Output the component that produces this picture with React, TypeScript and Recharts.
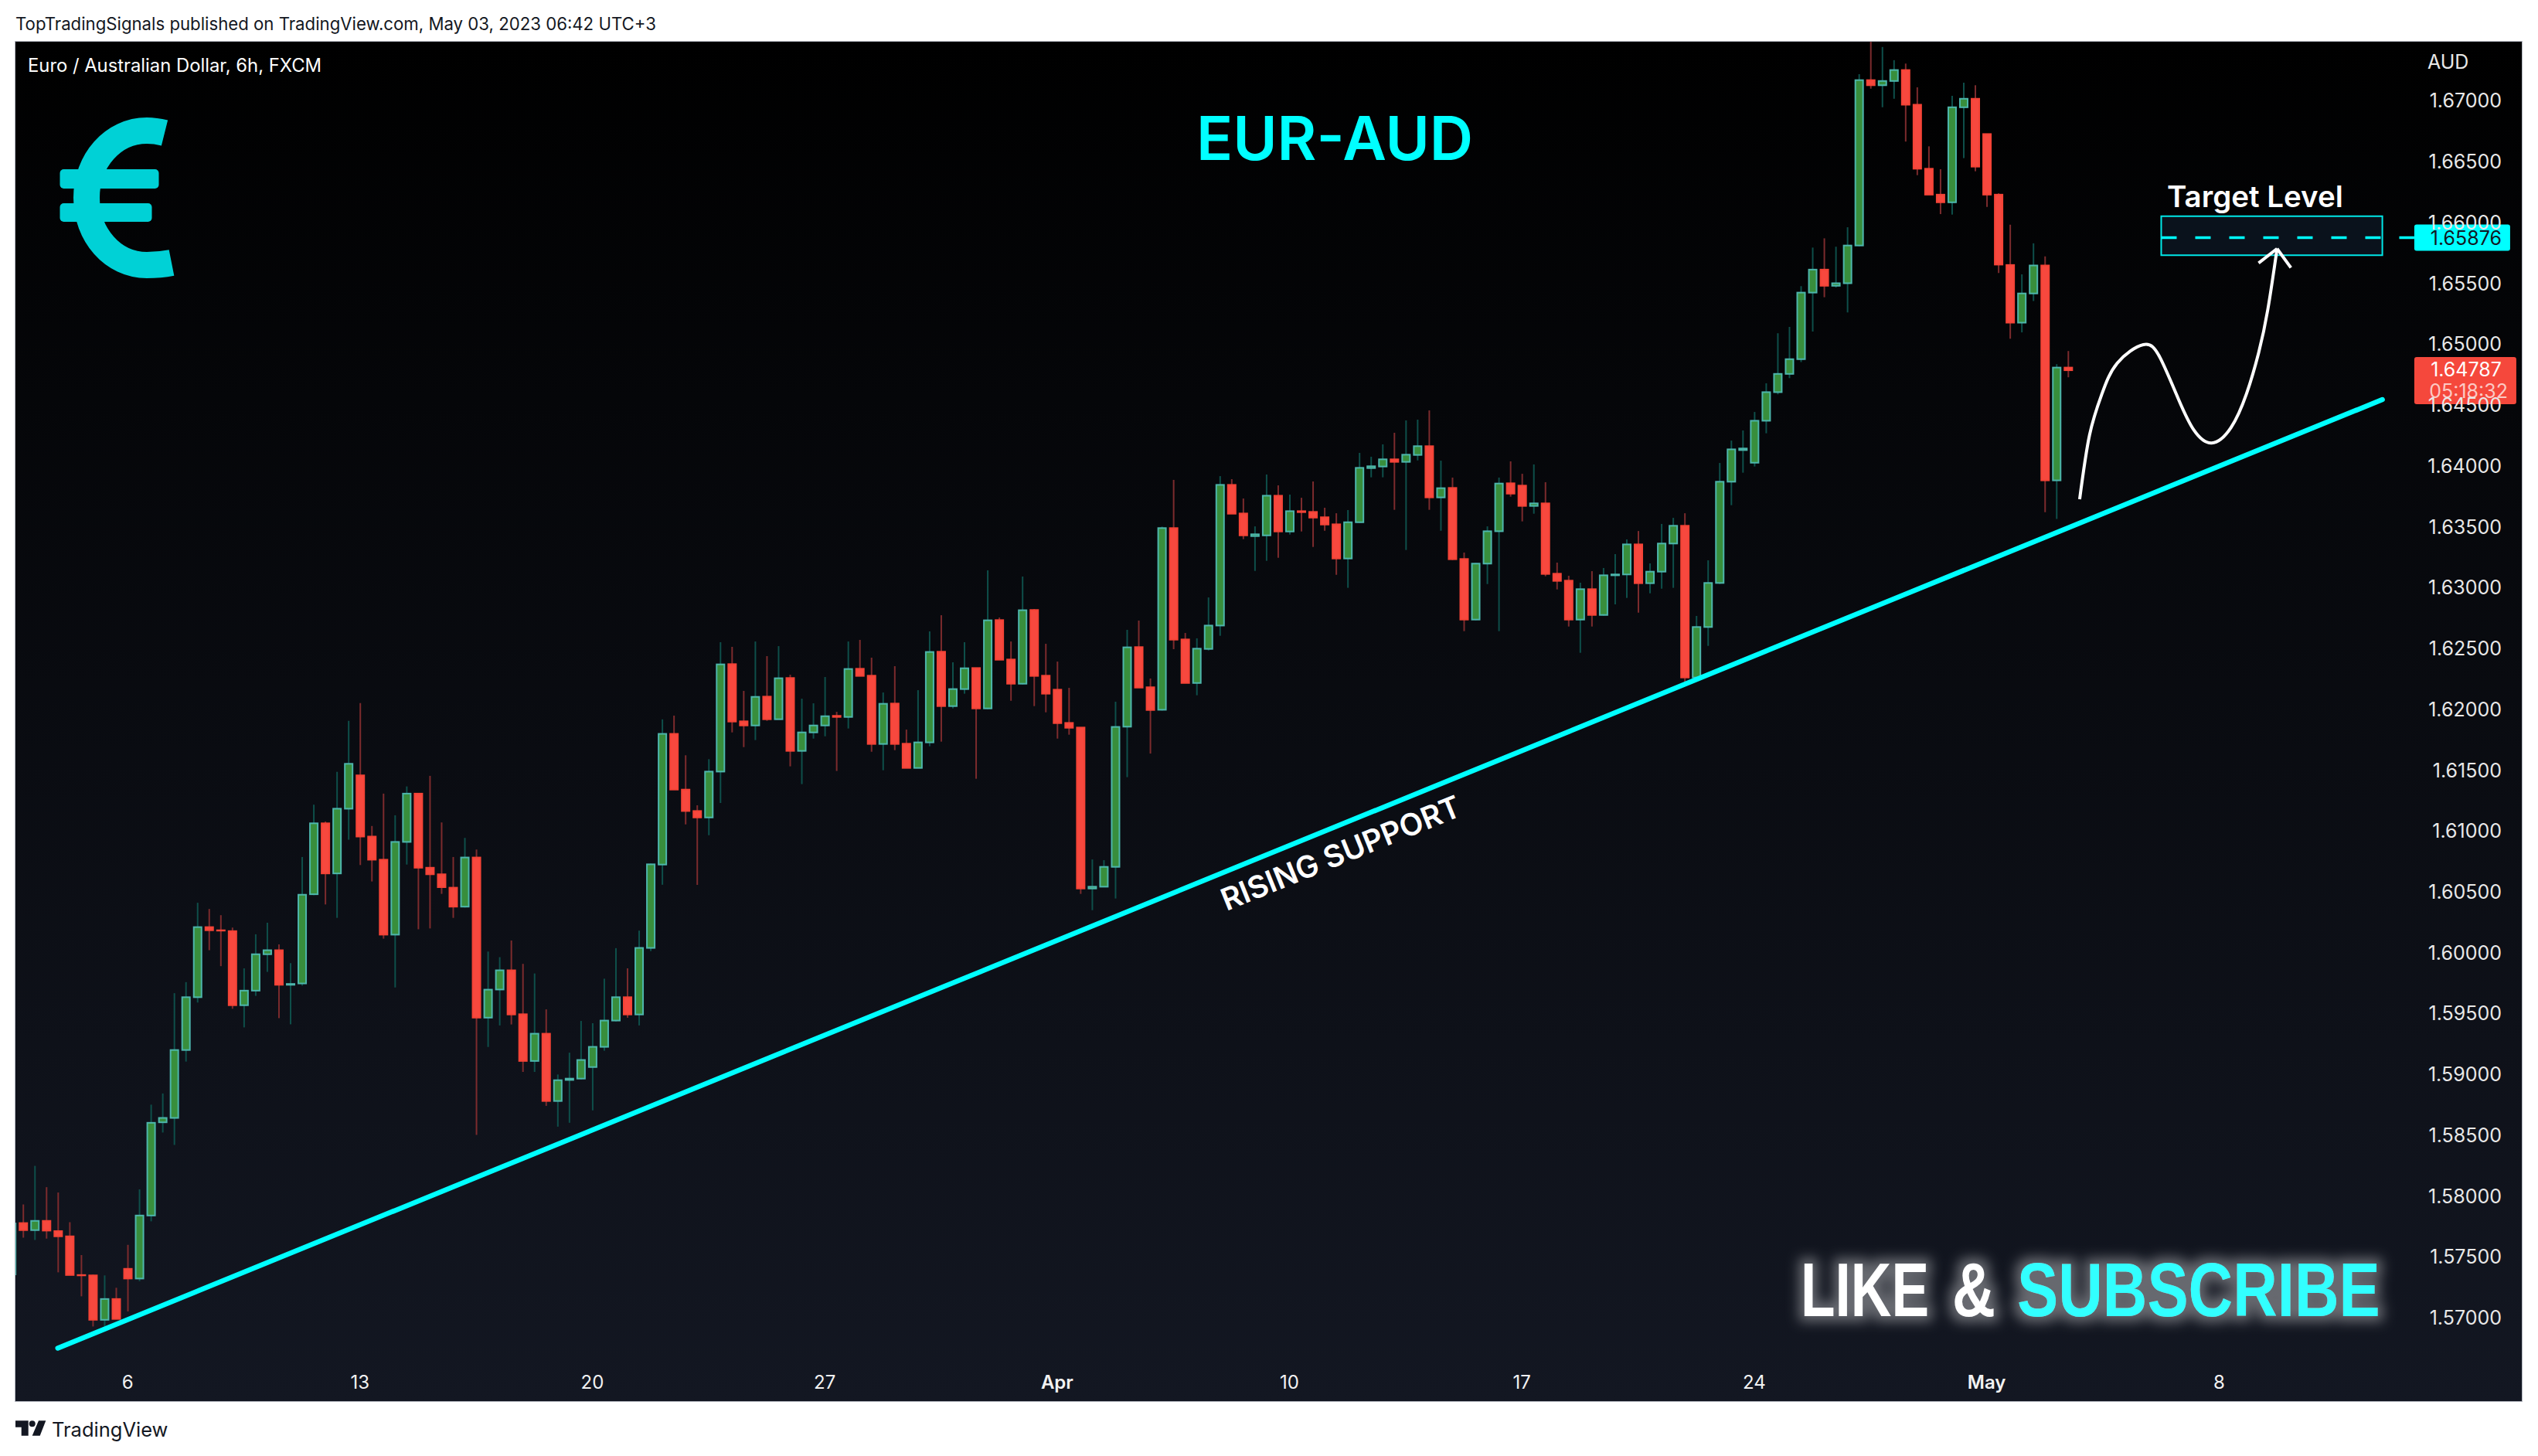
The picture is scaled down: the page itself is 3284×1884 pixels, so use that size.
import React from 'react';
import {
  ComposedChart,
  Bar,
  Line,
  XAxis,
  YAxis,
  ReferenceLine,
  ReferenceArea,
  ReferenceDot,
} from 'recharts';

const firstIndex = -1;
const opens = [
  1.57357,
  1.57779, 1.57721, 1.57797, 1.57713, 1.5767, 1.57352, 1.57349, 1.56984, 1.57155, 1.57403,
  1.57323, 1.57841, 1.58607, 1.58643, 1.59201, 1.59635, 1.60211, 1.60185, 1.60178, 1.59569,
  1.59689, 1.59988, 1.60021, 1.59737, 1.59748, 1.60481, 1.61064, 1.60652, 1.61184, 1.61458,
  1.60955, 1.60765, 1.60149, 1.60911, 1.61308, 1.60699, 1.60645, 1.60535, 1.60379, 1.60783,
  1.59467, 1.59698, 1.59856, 1.59495, 1.59111, 1.59335, 1.58782, 1.58955, 1.58966, 1.59061,
  1.59227, 1.59443, 1.59635, 1.59493, 1.6004, 1.60725, 1.61799, 1.61341, 1.61165, 1.61112,
  1.61489, 1.62372, 1.61902, 1.61868, 1.62105, 1.61919, 1.62258, 1.61659, 1.61811, 1.61868,
  1.61947, 1.61938, 1.62334, 1.62277, 1.61716, 1.62048, 1.61718, 1.61519, 1.61729, 1.62474,
  1.62027, 1.62167, 1.6234, 1.62008, 1.62734, 1.6241, 1.62211, 1.62817, 1.62277, 1.62162,
  1.61889, 1.61851, 1.60528, 1.60543, 1.60706, 1.61858, 1.62512, 1.62182, 1.61997, 1.6349,
  1.62575, 1.62217, 1.62497, 1.62689, 1.63845, 1.6361, 1.63424, 1.6343, 1.63756, 1.63462,
  1.63629, 1.63623, 1.63579, 1.63521, 1.6324, 1.63538, 1.63983, 1.63996, 1.64055, 1.64034,
  1.64091, 1.64163, 1.63742, 1.6382, 1.63236, 1.62738, 1.63198, 1.63464, 1.63858, 1.63839,
  1.63672, 1.63693, 1.63115, 1.63058, 1.62738, 1.62988, 1.62776, 1.63102, 1.63109, 1.63356,
  1.63037, 1.63132, 1.63363, 1.63509, 1.62262, 1.62677, 1.63039, 1.63871, 1.64131, 1.64027,
  1.64372, 1.64607, 1.64757, 1.64878, 1.65425, 1.65614, 1.65481, 1.65502, 1.65812, 1.67171,
  1.67129, 1.67164, 1.67254, 1.66969, 1.66443, 1.6623, 1.66167, 1.66948, 1.67018, 1.66728,
  1.6623, 1.65652, 1.65178, 1.65418, 1.65648, 1.63882, 1.64809,
];
const highs = [
  1.5785,
  1.57932, 1.58249, 1.58074, 1.5803, 1.57786, 1.57516, 1.57356, 1.57349, 1.57247, 1.576,
  1.58056, 1.58752, 1.58844, 1.59668, 1.59759, 1.60411, 1.6036, 1.60309, 1.60207, 1.59872,
  1.60152, 1.60247, 1.60069, 1.59915, 1.60787, 1.61217, 1.61079, 1.61487, 1.61906, 1.62052,
  1.61042, 1.61308, 1.6113, 1.61367, 1.61308, 1.61454, 1.61071, 1.60787, 1.60944, 1.60849,
  1.6001, 1.59964, 1.60101, 1.59909, 1.5983, 1.59535, 1.59, 1.59179, 1.5944, 1.59421,
  1.59787, 1.60038, 1.59872, 1.60182, 1.60733, 1.61918, 1.61949, 1.61623, 1.61212, 1.61591,
  1.62552, 1.62514, 1.62152, 1.62558, 1.62438, 1.6252, 1.62285, 1.62088, 1.6205, 1.62266,
  1.6198, 1.62558, 1.62571, 1.62425, 1.62139, 1.62355, 1.61834, 1.62158, 1.62641, 1.62774,
  1.62387, 1.62552, 1.6234, 1.63143, 1.62755, 1.62558, 1.63092, 1.62825, 1.62539, 1.62393,
  1.62177, 1.61851, 1.60767, 1.60761, 1.62063, 1.62654, 1.6273, 1.62254, 1.63502, 1.63886,
  1.62628, 1.62584, 1.6292, 1.63917, 1.63892, 1.63733, 1.63504, 1.6393, 1.63841, 1.63765,
  1.63739, 1.63873, 1.63657, 1.63612, 1.63638, 1.64108, 1.64076, 1.64178, 1.64273, 1.64375,
  1.64381, 1.64457, 1.64044, 1.63905, 1.63289, 1.63204, 1.63504, 1.63905, 1.64038, 1.63936,
  1.64013, 1.63867, 1.63206, 1.63098, 1.63041, 1.63136, 1.63162, 1.63276, 1.63397, 1.63466,
  1.632, 1.63524, 1.63574, 1.63612, 1.62768, 1.63225, 1.64025, 1.64209, 1.64292, 1.64444,
  1.6468, 1.65091, 1.65143, 1.65478, 1.65795, 1.65871, 1.65802, 1.65962, 1.6722, 1.67505,
  1.67443, 1.67335, 1.67307, 1.67112, 1.66627, 1.66439, 1.67042, 1.6715, 1.67129, 1.66728,
  1.66241, 1.65983, 1.65575, 1.6583, 1.65722, 1.64837, 1.64945,
];
const lows = [
  1.573,
  1.57659, 1.5764, 1.57651, 1.57374, 1.57352, 1.57177, 1.56929, 1.56929, 1.56991, 1.57053,
  1.57301, 1.57793, 1.58523, 1.58421, 1.59106, 1.59591, 1.60021, 1.5989, 1.5954, 1.59387,
  1.59646, 1.59843, 1.59463, 1.59412, 1.5973, 1.60473, 1.60397, 1.60287, 1.60929, 1.60721,
  1.60586, 1.60116, 1.59715, 1.60725, 1.60193, 1.602, 1.60484, 1.60287, 1.60371, 1.58504,
  1.59226, 1.59403, 1.59411, 1.59021, 1.59021, 1.58742, 1.58571, 1.58603, 1.58958, 1.58705,
  1.59195, 1.59435, 1.59466, 1.59403, 1.60014, 1.60559, 1.61341, 1.61055, 1.60558, 1.60966,
  1.61231, 1.61811, 1.6169, 1.61748, 1.61906, 1.61919, 1.61532, 1.61386, 1.6176, 1.61779,
  1.61494, 1.61843, 1.62275, 1.61652, 1.615, 1.61665, 1.61519, 1.61519, 1.61697, 1.61735,
  1.62008, 1.62129, 1.6143, 1.62002, 1.62408, 1.62071, 1.62205, 1.62027, 1.61976, 1.6176,
  1.61792, 1.60484, 1.6035, 1.60543, 1.60446, 1.61443, 1.62179, 1.61637, 1.6199, 1.62495,
  1.62217, 1.62116, 1.62484, 1.62605, 1.63608, 1.63399, 1.63138, 1.63221, 1.63246, 1.63437,
  1.63462, 1.63335, 1.63468, 1.63106, 1.62999, 1.63532, 1.63907, 1.63907, 1.6364, 1.6331,
  1.64046, 1.6364, 1.63468, 1.63227, 1.62643, 1.62732, 1.6303, 1.62643, 1.63748, 1.63545,
  1.63608, 1.63094, 1.62986, 1.62681, 1.62465, 1.62681, 1.6277, 1.62863, 1.62916, 1.62795,
  1.62954, 1.62992, 1.62999, 1.62211, 1.62249, 1.62522, 1.6303, 1.63678, 1.63945, 1.63996,
  1.64269, 1.64589, 1.64722, 1.64854, 1.65105, 1.65387, 1.65467, 1.65262, 1.65805, 1.67101,
  1.66948, 1.67018, 1.66666, 1.6639, 1.6623, 1.6607, 1.66066, 1.6653, 1.66422, 1.66129,
  1.65586, 1.65046, 1.65098, 1.65356, 1.63621, 1.63565, 1.64729,
];
const closes = [
  1.57776,
  1.57721, 1.57797, 1.57717, 1.5767, 1.57352, 1.57349, 1.56984, 1.57155, 1.56991, 1.57323,
  1.57841, 1.58603, 1.58643, 1.59201, 1.59635, 1.60211, 1.60185, 1.60182, 1.59569, 1.59689,
  1.59988, 1.60021, 1.59737, 1.59744, 1.60477, 1.61064, 1.60652, 1.61184, 1.61553, 1.60955,
  1.60765, 1.60149, 1.60911, 1.61308, 1.60699, 1.60645, 1.60539, 1.60379, 1.60783, 1.59467,
  1.59697, 1.59856, 1.59493, 1.59111, 1.59335, 1.58782, 1.58953, 1.58966, 1.59119, 1.59227,
  1.59443, 1.59635, 1.59493, 1.6004, 1.60727, 1.61799, 1.61341, 1.61165, 1.61112, 1.61489,
  1.6237, 1.619, 1.61868, 1.62103, 1.61919, 1.62256, 1.61659, 1.61811, 1.61868, 1.61944,
  1.61938, 1.62332, 1.62275, 1.61716, 1.62046, 1.61716, 1.61519, 1.61729, 1.62472, 1.62027,
  1.62167, 1.62338, 1.62008, 1.62732, 1.62408, 1.62211, 1.62815, 1.62275, 1.62129, 1.61887,
  1.61849, 1.60528, 1.60543, 1.60706, 1.61856, 1.6251, 1.62179, 1.61995, 1.6349, 1.62573,
  1.62217, 1.62499, 1.62689, 1.63845, 1.63608, 1.6343, 1.63439, 1.63756, 1.63462, 1.63629,
  1.63621, 1.63576, 1.63519, 1.6324, 1.63538, 1.63985, 1.63998, 1.64055, 1.64034, 1.64093,
  1.64163, 1.63742, 1.63818, 1.63234, 1.62738, 1.63198, 1.63464, 1.63856, 1.63773, 1.63672,
  1.63693, 1.63113, 1.63056, 1.62738, 1.62988, 1.62776, 1.63102, 1.63109, 1.63356, 1.63037,
  1.63132, 1.63363, 1.63509, 1.62262, 1.62677, 1.63039, 1.63871, 1.64137, 1.64144, 1.64372,
  1.64607, 1.64757, 1.64878, 1.65425, 1.65614, 1.65481, 1.65502, 1.65812, 1.67171, 1.67129,
  1.67164, 1.67254, 1.66969, 1.66443, 1.6623, 1.66167, 1.66948, 1.67018, 1.6646, 1.6623,
  1.65655, 1.65178, 1.65418, 1.65648, 1.63882, 1.64809, 1.64787,
];

const priceTicks = [
  1.57, 1.575, 1.58, 1.585, 1.59, 1.595, 1.6, 1.605, 1.61, 1.615, 1.62,
  1.625, 1.63, 1.635, 1.64, 1.645, 1.65, 1.655, 1.66, 1.665, 1.67,
];
const dateTickIndex = [9, 29, 49, 69, 89, 109, 129, 149, 169, 189];
const dateTickLabels = ['6', '13', '20', '27', 'Apr', '10', '17', '24', 'May', '8'];
const boldDateLabels = ['Apr', 'May'];

const supportLine = [
  { x: 2.99, y: 1.56751 },
  { x: 203.05, y: 1.64546 },
];
const targetPrice = 1.65876;
const lastPrice = 1.64787;
const targetBox = { x1: 184.02, x2: 203.05, y1: 1.65732, y2: 1.66053 };
const targetLine = [
  { x: 184.02, y: targetPrice },
  { x: 205.8, y: targetPrice },
];
const tagIndex = 205.8;
const pathIndex = [177.0, 177.85, 178.91, 180.23, 182.48, 183.94, 185.51, 186.84, 188.36, 190.02, 191.35, 192.4, 193.2, 193.99];
const pathPrice = [1.63727, 1.64254, 1.64591, 1.64845, 1.64997, 1.64887, 1.64548, 1.64294, 1.64189, 1.64315, 1.64591, 1.64929, 1.65289, 1.65786];
const arrowTip = { x: 193.99, y: 1.65786 };
const arrowLeft = { x: 192.4, y: 1.65668 };
const arrowRight = { x: 195.18, y: 1.6563 };

const candles = opens.map((o, i) => ({
  idx: i + firstIndex,
  open: o,
  high: highs[i],
  low: lows[i],
  close: closes[i],
  range: [lows[i], highs[i]],
}));
const pathData = pathIndex.map((x, i) => ({ idx: x, path: pathPrice[i] }));

const UI = 'Inter, "Liberation Sans", sans-serif';
const CYAN = '#00ffff';

function CandleShape(props: any) {
  const { x, y, width, height, payload } = props;
  const cx = x + width / 2;
  const unit = height / (payload.high - payload.low);
  const at = (v: number) => y + (payload.high - v) * unit;
  const up = payload.close >= payload.open;
  const top = at(Math.max(payload.open, payload.close));
  const bottom = at(Math.min(payload.open, payload.close));
  return (
    <g>
      <line
        x1={cx}
        x2={cx}
        y1={y}
        y2={y + height}
        stroke={up ? '#0e4f4a' : '#7c2b2d'}
        strokeWidth={2}
      />
      <rect
        x={cx - 5}
        y={top}
        width={10}
        height={bottom - top}
        fill={up ? '#388e3c' : '#f7483e'}
        stroke={up ? '#4db6ac' : '#f44336'}
        strokeWidth={2}
      />
    </g>
  );
}

function DateTick(props: any) {
  const { x, y, payload } = props;
  const label = dateTickLabels[dateTickIndex.indexOf(payload.value)];
  const bold = boldDateLabels.includes(label);
  return (
    <text
      x={x}
      y={y - 16}
      textAnchor="middle"
      fill="#f2f2f2"
      fontFamily={UI}
      fontSize={24}
      fontWeight={bold ? 600 : 400}
    >
      {label}
    </text>
  );
}

function TargetTag(props: any) {
  const { cx, cy } = props;
  return (
    <g>
      <rect x={cx} y={cy - 17} width={124} height={34} rx={3} fill={CYAN} />
      <text x={cx + 113} y={cy + 9} textAnchor="end" fill="#131722" fontFamily={UI} fontSize={25}>
        1.65876
      </text>
    </g>
  );
}

function LastTag(props: any) {
  const { cx, cy } = props;
  return (
    <g>
      <rect x={cx} y={cy - 17} width={132} height={61} rx={3} fill="#f5483c" />
      <text x={cx + 113} y={cy + 8} textAnchor="end" fill="#ffffff" fontFamily={UI} fontSize={25}>
        1.64787
      </text>
      <text x={cx + 121} y={cy + 36} textAnchor="end" fill="#fcc9c4" fontFamily={UI} fontSize={25}>
        05:18:32
      </text>
    </g>
  );
}

export default function App() {
  return (
    <div style={{ position: 'absolute', left: 0, top: 0, width: 3284, height: 1884, background: '#ffffff', overflow: 'hidden' }}>
      <div
        style={{
          position: 'absolute',
          left: 20,
          top: 54,
          width: 3243,
          height: 1759,
          background: 'linear-gradient(180deg, #000000 0%, #131722 100%)',
          boxShadow: '0 0 0 1px #b2b5be',
        }}
      />
      <div style={{ position: 'absolute', left: 0, top: 0 }}>
        <ComposedChart
          width={3284}
          height={1884}
          data={candles}
          margin={{ top: 54, left: 20, right: 21, bottom: 71 }}
        >
          <XAxis
            dataKey="idx"
            type="number"
            scale="linear"
            domain={[-0.652, 215.05]}
            allowDataOverflow
            ticks={dateTickIndex}
            interval={0}
            axisLine={false}
            tickLine={false}
            tickSize={0}
            tickMargin={0}
            mirror
            tick={<DateTick />}
          />
          <YAxis
            orientation="right"
            mirror
            type="number"
            scale="linear"
            domain={[1.563157, 1.674865]}
            allowDataOverflow
            ticks={priceTicks}
            interval={0}
            axisLine={false}
            tickLine={false}
            tickSize={0}
            tickMargin={26}
            tickFormatter={(v: number) => v.toFixed(5)}
            tick={{ fill: '#e8e8e8', fontSize: 25, fontFamily: UI }}
          />
          <ReferenceArea
            x1={targetBox.x1}
            x2={targetBox.x2}
            y1={targetBox.y1}
            y2={targetBox.y2}
            fill="#0a121c"
            fillOpacity={1}
            stroke="#00e8e8"
            strokeWidth={2}
            ifOverflow="visible"
          />
          <ReferenceLine
            segment={supportLine}
            stroke={CYAN}
            strokeWidth={6.5}
            strokeLinecap="round"
            ifOverflow="visible"
          />
          <ReferenceLine
            segment={targetLine}
            stroke={CYAN}
            strokeWidth={3.5}
            strokeDasharray="20 24"
            ifOverflow="visible"
          />
          <Bar dataKey="range" barSize={12} isAnimationActive={false} shape={<CandleShape />} />
          <Line
            data={pathData}
            dataKey="path"
            type="natural"
            stroke="#ffffff"
            strokeWidth={4}
            dot={false}
            activeDot={false}
            isAnimationActive={false}
            legendType="none"
          />
          <ReferenceLine segment={[arrowLeft, arrowTip]} stroke="#ffffff" strokeWidth={4} ifOverflow="visible" />
          <ReferenceLine segment={[arrowRight, arrowTip]} stroke="#ffffff" strokeWidth={4} ifOverflow="visible" />
          <ReferenceDot x={tagIndex} y={targetPrice} r={1} ifOverflow="visible" shape={<TargetTag />} />
          <ReferenceDot x={tagIndex} y={lastPrice} r={1} ifOverflow="visible" shape={<LastTag />} />
        </ComposedChart>
      </div>
      <svg
        width={3284}
        height={1884}
        style={{ position: 'absolute', left: 0, top: 0, pointerEvents: 'none' }}
      >
        <defs>
          <filter id="glow" x="2280" y="1560" width="850" height="200" filterUnits="userSpaceOnUse">
            <feMorphology in="SourceAlpha" operator="dilate" radius="7" result="fat" />
            <feGaussianBlur in="fat" stdDeviation="8" result="soft" />
            <feFlood floodColor="#ffffff" floodOpacity="0.36" />
            <feComposite in2="soft" operator="in" result="halo" />
            <feMerge>
              <feMergeNode in="halo" />
              <feMergeNode in="SourceGraphic" />
            </feMerge>
          </filter>
        </defs>

        <text x={20} y={39} fill="#131722" fontFamily={UI} fontSize={22.2}>
          TopTradingSignals published on TradingView.com, May 03, 2023 06:42 UTC+3
        </text>
        <text x={36} y={93} fill="#ffffff" fontFamily={UI} fontSize={23.8}>
          Euro / Australian Dollar, 6h, FXCM
        </text>
        <text x={3141} y={89} fill="#e8e8e8" fontFamily={UI} fontSize={25}>
          AUD
        </text>

        <g fill="#00d1d6">
          <path
            d="M 213 172 C 205 170 198 169 190 169 C 146 169 112 208 112 256 C 112 304 146 343 190 343 C 202 343 212 342 222 340"
            fill="none"
            stroke="#00d1d6"
            strokeWidth={34}
          />
          <rect x={77.5} y={219} width={128} height={25} rx={5} />
          <rect x={77.5} y={263} width={119} height={24} rx={5} />
        </g>

        <text x={1548} y={207} fill={CYAN} fontFamily={UI} fontSize={78} fontWeight={600}>
          EUR-AUD
        </text>
        <text x={2804} y={268} fill="#ffffff" fontFamily={UI} fontSize={38.5} fontWeight={600}>
          Target Level
        </text>
        <text
          x={1587}
          y={1179}
          fill="#ffffff"
          fontFamily={UI}
          fontSize={39.5}
          fontWeight={600}
          transform="rotate(-22.1 1587 1179)"
        >
          RISING SUPPORT
        </text>

        <g filter="url(#glow)" fontFamily='"Liberation Sans", sans-serif' fontWeight={700} fontSize={98}>
          <text transform="translate(2330 1703) scale(0.744 1)" fill="#ffffff">
            LIKE
          </text>
          <text transform="translate(2526 1703) scale(0.79 1)" fill="#ffffff">
            &amp;
          </text>
          <text transform="translate(2610 1703) scale(0.814 1)" fill="#33ffff">
            SUBSCRIBE
          </text>
        </g>

        <g fill="#131722">
          <path d="M 20 1838.3 L 36.7 1838.3 L 36.7 1857.7 L 27.7 1857.7 L 27.7 1846.7 L 20 1846.7 Z" />
          <circle cx={41.7} cy={1842.3} r={4} />
          <path d="M 59.3 1838.3 L 51.7 1857.7 L 41.7 1857.7 L 50 1838.3 Z" />
        </g>
        <text x={67} y={1859} fill="#131722" fontFamily={UI} fontSize={25.5}>
          TradingView
        </text>
      </svg>
    </div>
  );
}
